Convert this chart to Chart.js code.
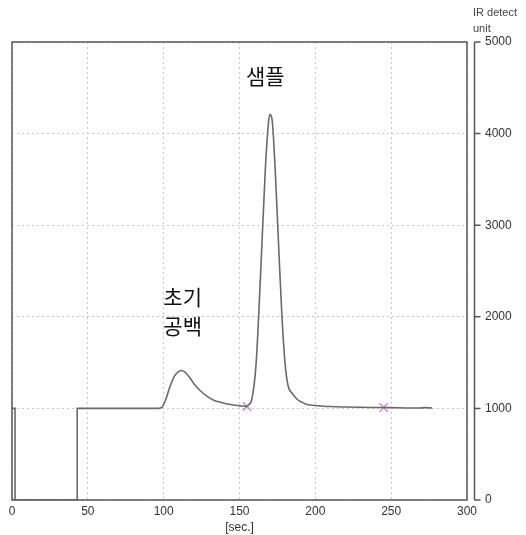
<!DOCTYPE html>
<html>
<head>
    <meta charset="UTF-8">
    <title>IR detector chromatogram</title>
    <script src="https://cdn.jsdelivr.net/npm/chart.js@4/dist/chart.umd.min.js"></script>
    <style>
        body { margin: 0; background: #fff; }
        #wrap { width: 526px; height: 535px; position: relative; }
    </style>
</head>
<body>
<div id="wrap"><canvas id="myChart"></canvas></div>
<script>
    // signal trace, time [sec.] vs IR detect unit
    const times = [0, 2, 2, 43, 43, 97, 99, 101, 104, 107, 110, 112, 114, 117, 120, 124, 128, 133, 138, 144, 150, 154.5,
        156, 158, 161, 164, 167, 169, 170, 171.5, 173.5, 176, 178, 180, 182, 185, 188, 191, 194, 198, 203,
        210, 220, 230, 240, 250, 260, 268, 272, 277];
    const signal = [1000, 1000, 0, 0, 1000, 1000, 1015, 1080, 1230, 1350, 1405, 1413, 1395, 1340, 1270, 1196, 1140, 1090, 1065, 1043, 1030, 1022,
        1040, 1090, 1500, 2500, 3600, 4100, 4210, 4150, 3620, 2700, 2000, 1500, 1250, 1160, 1100, 1068, 1045, 1035, 1028,
        1020, 1015, 1012, 1010, 1008, 1005, 1004, 1008, 1005];
    const markTimes = [155, 245];
    const markValues = [1020, 1010];
    const xTicks = [0, 50, 100, 150, 200, 250, 300];
    const yTicks = [0, 1000, 2000, 3000, 4000, 5000];
    const labels = [
        { text: '샘플', t: 167, v: 4625 },
        { text: '초기', t: 112.5, v: 2220 },
        { text: '공백', t: 112.5, v: 1900 }
    ];

    // step part is drawn straight, the peaks smooth
    const split = 5;
    const pts = times.map((t, i) => ({ x: t, y: signal[i] }));
    const steps = pts.slice(0, split + 1);
    const peaks = pts.slice(split);
    const marks = markTimes.map((t, i) => ({ x: t, y: markValues[i] }));

    const frame = {
        id: 'frame',
        afterDraw(chart) {
            const c = chart.ctx;
            const a = chart.chartArea;
            const ys = chart.scales.y;
            const xs = chart.scales.x;
            c.save();
            // plot box
            c.strokeStyle = '#555';
            c.lineWidth = 1.5;
            c.strokeRect(a.left, a.top, a.right - a.left, a.bottom - a.top);
            // separate value axis with small ticks
            const ax = a.right + 7.5;
            c.beginPath();
            c.moveTo(ax, a.top);
            c.lineTo(ax, a.bottom);
            yTicks.forEach(v => {
                const y = ys.getPixelForValue(v);
                c.moveTo(ax, y);
                c.lineTo(ax + 6, y);
            });
            c.stroke();
            // axis caption
            c.fillStyle = '#444';
            c.font = '11px "Liberation Sans", Arial, sans-serif';
            c.textAlign = 'left';
            c.textBaseline = 'middle';
            c.fillText('IR detect', 473, 13);
            c.fillText('unit', 473, 29);
            // korean annotations
            c.fillStyle = '#111';
            c.font = '21px "Noto Sans CJK KR", sans-serif';
            c.textAlign = 'center';
            labels.forEach(l => {
                c.fillText(l.text, xs.getPixelForValue(l.t), ys.getPixelForValue(l.v));
            });
            c.restore();
        }
    };

    const tickFont = { family: '"Liberation Sans", Arial, sans-serif', size: 12 };
    const ctx = document.getElementById('myChart').getContext('2d');
    new Chart(ctx, {
        type: 'line',
        data: {
            datasets: [
                {
                    data: steps,
                    borderColor: '#6a6a6a',
                    borderWidth: 1.6,
                    pointRadius: 0,
                    tension: 0
                },
                {
                    data: peaks,
                    borderColor: '#6a6a6a',
                    borderWidth: 1.6,
                    pointRadius: 0,
                    cubicInterpolationMode: 'monotone'
                },
                {
                    data: marks,
                    showLine: false,
                    pointStyle: 'crossRot',
                    pointRadius: 6,
                    borderColor: '#d27fd6',
                    borderWidth: 1.3
                }
            ]
        },
        options: {
            responsive: true,
            maintainAspectRatio: false,
            animation: false,
            layout: { padding: { left: 12, top: 42, right: 0, bottom: 0 } },
            plugins: { legend: { display: false }, tooltip: { enabled: false } },
            scales: {
                x: {
                    type: 'linear',
                    min: 0,
                    max: 300,
                    afterBuildTicks: s => { s.ticks = xTicks.map(v => ({ value: v })); },
                    afterFit: s => { s.height = 35; },
                    border: { display: false, dash: [2, 3] },
                    grid: { color: '#c8c8c8', lineWidth: 1, drawTicks: false },
                    ticks: { color: '#333', padding: 4, maxRotation: 0, font: tickFont },
                    title: {
                        display: true,
                        text: '[sec.]',
                        color: '#333',
                        padding: { top: 0, bottom: 0 },
                        font: tickFont
                    }
                },
                y: {
                    position: 'right',
                    min: 0,
                    max: 5000,
                    afterBuildTicks: s => { s.ticks = yTicks.map(v => ({ value: v })); },
                    afterFit: s => { s.width = 59; },
                    border: { display: false, dash: [2, 3] },
                    grid: { color: '#c8c8c8', lineWidth: 1, drawTicks: false },
                    ticks: { color: '#333', padding: 18, font: tickFont, callback: v => String(v) }
                }
            }
        },
        plugins: [frame]
    });
</script>
</body>
</html>
